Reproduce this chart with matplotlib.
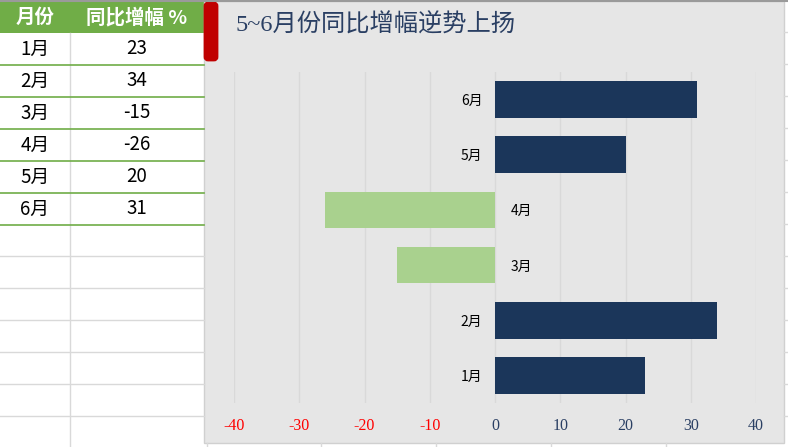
import matplotlib
matplotlib.use('Agg')
import matplotlib.pyplot as plt
from matplotlib.patches import Rectangle, FancyBboxPatch

plt.rcParams['font.family'] = ['Noto Sans CJK SC', 'DejaVu Sans']

# Data
months = ['1月', '2月', '3月', '4月', '5月', '6月']
growth = [23, 34, -15, -26, 20, 31]
header = ['月份', '同比增幅 %']
title = '5~6月份同比增幅逆势上扬'
x_ticks = [-40, -30, -20, -10, 0, 10, 20, 30, 40]

# Colours
navy = '#1B365A'
light_green = '#A9D18E'
sheet_green = '#70AD47'
chart_bg = '#E6E6E6'
grid_grey = '#D9D9D9'
text_navy = '#2A3F63'

W, H = 788, 447
fig = plt.figure(figsize=(W / 100, H / 100), dpi=100)

# ---- spreadsheet background (pixel coordinates) ----
bg = fig.add_axes([0, 0, 1, 1])
bg.set_xlim(0, W)
bg.set_ylim(H, 0)
bg.axis('off')

row_h = 32
header_h = 33
col_split = 70
table_right = 204

# empty sheet grid below the table
for k in range(8, 14):
    bg.plot([0, table_right], [k * row_h, k * row_h], color=grid_grey, lw=1)
bg.plot([col_split, col_split], [header_h, H], color=grid_grey, lw=1)

# header row
bg.add_patch(Rectangle((0, 1), table_right, header_h - 1, color=sheet_green, lw=0))
bg.text(col_split / 2, header_h / 2 + 1, header[0], ha='center', va='center',
        color='white', fontsize=14, fontweight='bold')
bg.text((col_split + table_right) / 2, header_h / 2 + 1, header[1], ha='center',
        va='center', color='white', fontsize=14, fontweight='bold')

# body rows
for i, (m, v) in enumerate(zip(months, growth)):
    top = header_h + i * row_h
    bg.text(col_split / 2, top + row_h / 2, m, ha='center', va='center',
            color='black', fontsize=13.5)
    bg.text((col_split + table_right) / 2, top + row_h / 2, str(v), ha='center',
            va='center', color='black', fontsize=13.5)
    bg.plot([0, table_right], [top + row_h, top + row_h], color=sheet_green, lw=1.2)

# sheet grid peeking out right of and below the chart
for k in range(1, 14):
    bg.plot([784, W], [k * row_h, k * row_h], color=grid_grey, lw=1)
for xx in [207, 321, 436, 551, 666]:
    bg.plot([xx, xx], [443, H], color=grid_grey, lw=1)

# chart area
bg.add_patch(Rectangle((204, 1), 580, 442, facecolor=chart_bg,
                       edgecolor='#D0D0D0', lw=1))
bg.plot([0, W], [0.5, 0.5], color='#9A9A9A', lw=1.5)

# red tag + title
bg.add_patch(FancyBboxPatch((205, 3), 12, 57, boxstyle='round,pad=0,rounding_size=3',
                            facecolor='#C00000', edgecolor='#C00000', lw=2))
bg.text(236, 25, title, ha='left', va='center', color=text_navy, fontsize=17.5,
        family=['Liberation Serif', 'Noto Sans CJK SC'])

# ---- bar chart ----
left, right, top, bottom = 234, 756, 72, 403
ax = fig.add_axes([left / W, 1 - bottom / H, (right - left) / W, (bottom - top) / H])
ax.set_facecolor('none')

colors = [navy if v >= 0 else light_green for v in growth]
ax.barh(range(len(months)), growth, height=0.667, color=colors, zorder=3)

ax.set_xlim(-40, 40)
ax.set_ylim(-0.5, len(months) - 0.5)
ax.set_xticks(x_ticks)
ax.set_xticklabels([str(t) for t in x_ticks], family=['Liberation Serif'], fontsize=11.5)
for lbl, t in zip(ax.get_xticklabels(), x_ticks):
    lbl.set_color('#FF0000' if t < 0 else text_navy)
ax.grid(axis='x', color=grid_grey, lw=1, zorder=0)

# month labels sit on the side of the zero line away from the bar
label_font = dict(family=['Liberation Serif', 'Noto Sans CJK SC'], fontsize=10, color=text_navy)
ax.set_yticks(range(len(months)))
ax.set_yticklabels([m if v >= 0 else '' for m, v in zip(months, growth)], **label_font)
ax.spines['left'].set_position(('data', 0))

ax2 = ax.twinx()
ax2.set_ylim(ax.get_ylim())
ax2.set_yticks(range(len(months)))
ax2.set_yticklabels([m if v < 0 else '' for m, v in zip(months, growth)], **label_font)
ax2.spines['right'].set_position(('data', 0))

for a in (ax, ax2):
    for s in a.spines.values():
        s.set_visible(False)
ax.tick_params(axis='x', length=0, pad=11)
ax.tick_params(axis='y', length=0, pad=9)
ax2.tick_params(axis='y', length=0, pad=11)

fig.savefig('out.png', dpi=100)
